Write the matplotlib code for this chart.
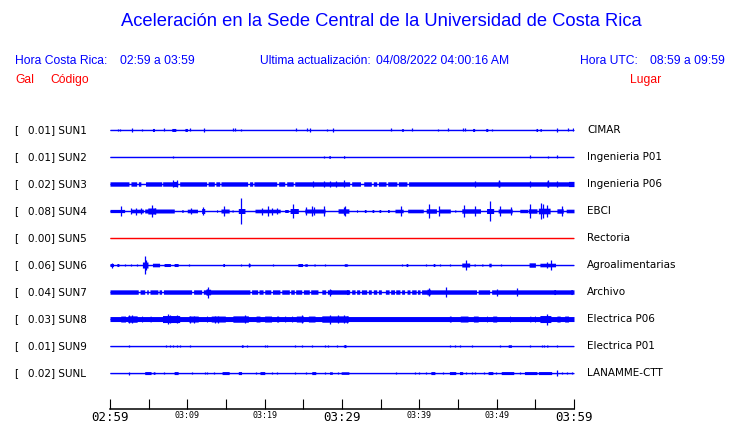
import numpy as np
import matplotlib
matplotlib.use("Agg")
import matplotlib.pyplot as plt
import matplotlib.transforms as mtransforms

# estaciones, pico en gal, lugar
codes = ["SUN1", "SUN2", "SUN3", "SUN4", "SUN5", "SUN6", "SUN7", "SUN8", "SUN9", "SUNL"]
peak_gal = [0.01, 0.01, 0.02, 0.08, 0.00, 0.06, 0.04, 0.03, 0.01, 0.02]
places = ["CIMAR", "Ingenieria P01", "Ingenieria P06", "EBCI", "Rectoria",
          "Agroalimentarias", "Archivo", "Electrica P06", "Electrica P01", "LANAMME-CTT"]

# ruido de fondo (semi-amplitud) por estacion, 0 = traza fina
band = [0, 0, 2.2, 0, 0, 0, 2.2, 2.5, 0, 0]

# minutos despues de 02:59 ; (inicio, fin, amplitud) y (t, amplitud)
sun1_boxes = [(5.5, 5.75, 1.5), (8.0, 8.5, 1.5), (9.7, 10.0, 1.5), (37.7, 37.95, 1.3),
              (46.9, 47.15, 1.5), (48.6, 48.85, 1.5), (55.1, 55.3, 1.5), (55.6, 55.8, 1.3)]
sun1_spikes = [(1.0, 1.2), (1.3, 1.2), (2.8, 1.6), (4.2, 1.3), (7.0, 1.5), (10.3, 1.5),
               (12.2, 2.2), (15.9, 1.5), (16.2, 1.5), (17.0, 1.3), (24.1, 1.5), (25.5, 1.5),
               (25.8, 1.8), (28.0, 1.2), (28.9, 1.6), (36.4, 1.5), (39.1, 1.5), (42.4, 1.3),
               (43.7, 1.5), (45.7, 1.5), (45.9, 1.5), (49.4, 1.3), (57.8, 2.2), (59.2, 1.5),
               (59.9, 1.5)]

sun2_boxes = [(28.3, 28.5, 1.3), (30.2, 30.35, 1.3)]
sun2_spikes = [(8.2, 1.2), (27.7, 1.3), (54.3, 1.5), (56.7, 1.2), (57.8, 1.5)]

sun3_gaps = [(2.46, 2.7), (3.45, 3.66), (4.0, 4.6), (6.7, 6.8), (8.75, 9.0), (12.5, 12.7),
             (13.5, 13.7), (14.2, 14.35), (17.8, 18.05), (18.45, 18.6), (21.55, 21.8),
             (22.6, 22.85), (23.7, 23.9), (31.0, 31.25), (32.4, 32.8), (33.8, 34.05),
             (34.5, 34.7), (35.7, 35.9), (37.1, 37.3), (38.4, 38.6)]
sun3_boxes = [(8.1, 8.7, 2.6), (50.2, 50.4, 3.0), (56.5, 56.7, 3.0), (59.3, 60.0, 2.6)]
sun3_spikes = [(8.15, 3.5), (8.6, 3.5), (26.3, 3.0), (27.7, 3.0), (28.5, 3.2), (29.2, 3.0),
               (30.3, 3.5), (47.2, 3.0), (50.3, 3.5), (54.3, 3.0), (56.6, 3.5), (57.8, 3.0)]

sun4_boxes = [(0.0, 1.9, 1.6), (2.7, 4.3, 1.8), (4.5, 8.3, 2.0), (4.9, 5.9, 3.0),
              (9.3, 9.45, 1.5), (10.0, 11.3, 1.8), (11.85, 12.25, 2.5), (13.8, 13.9, 1.3),
              (14.35, 15.4, 2.0), (15.8, 15.9, 1.3), (16.6, 17.45, 2.5), (18.75, 22.0, 1.8),
              (22.6, 23.05, 1.5), (23.3, 24.35, 2.5), (25.2, 27.8, 2.0), (29.5, 30.9, 2.2),
              (31.9, 32.0, 1.3), (32.9, 33.1, 1.5), (33.9, 34.1, 1.5), (34.8, 35.0, 1.5),
              (35.9, 36.1, 1.5), (36.85, 37.9, 1.8), (38.5, 40.5, 1.8), (40.9, 42.2, 2.2),
              (42.5, 44.0, 2.0), (44.6, 44.7, 1.3), (45.5, 47.9, 2.2), (48.7, 49.6, 2.5),
              (50.2, 52.0, 2.0), (53.0, 54.0, 1.7), (54.1, 55.2, 2.2), (55.4, 56.9, 2.8),
              (57.8, 58.6, 2.2), (59.0, 60.0, 1.8)]
sun4_spikes = [(1.4, 5), (2.7, 3), (3.4, 3.5), (3.96, 3), (5.4, 6), (5.8, 3), (10.5, 3),
               (12.0, 4), (14.7, 5), (16.94, 12.7), (19.6, 3.5), (20.4, 5), (20.9, 3.5),
               (21.55, 3), (23.7, 7), (25.4, 4), (26.1, 4.5), (26.4, 4), (27.7, 5), (30.3, 4),
               (30.4, 5), (37.6, 5), (41.3, 6.7), (42.6, 5), (45.8, 6), (47.2, 5), (49.1, 9.7),
               (50.4, 5), (51.8, 4), (54.3, 7), (55.7, 8), (56.0, 7), (56.5, 6), (58.4, 5)]

sun5_boxes = []
sun5_spikes = []

sun6_boxes = [(0.0, 0.45, 1.5), (0.9, 1.15, 1.5), (4.2, 4.9, 3.0), (5.5, 6.4, 1.8),
              (7.0, 7.8, 1.5), (8.3, 8.8, 1.5), (14.6, 14.8, 1.5), (17.9, 18.1, 1.5),
              (24.3, 24.9, 1.5), (25.2, 25.5, 1.3), (26.4, 26.5, 1.3), (30.3, 30.6, 1.3),
              (38.3, 38.5, 1.5), (41.8, 42.0, 1.5), (45.5, 46.5, 2.0), (47.1, 47.2, 1.3),
              (48.1, 48.2, 1.3), (49.0, 49.3, 1.8), (54.2, 55.0, 2.2), (55.6, 57.6, 1.8)]
sun6_spikes = [(0.2, 2.5), (1.94, 1.3), (2.7, 1.3), (3.45, 1.3), (4.5, 9.3), (4.7, 5),
               (10.26, 1.3), (16.94, 1.3), (18.0, 2.3), (21.1, 1.3), (27.8, 1.3), (30.7, 1.3),
               (37.7, 1.3), (40.9, 1.3), (42.7, 1.3), (44.0, 1.3), (46.0, 5), (50.5, 1.3),
               (57.0, 5), (56.5, 3)]

sun7_gaps = [(3.66, 3.88), (4.5, 4.74), (4.95, 5.17), (6.2, 6.35), (6.68, 6.9), (10.56, 10.8),
             (11.85, 12.07), (18.1, 18.3), (19.1, 19.26), (19.8, 20.0), (20.8, 21.0),
             (21.98, 22.2), (23.2, 23.36), (23.83, 24.0), (24.8, 25.0), (25.77, 25.95),
             (26.9, 27.4), (27.9, 28.1), (31.0, 31.25), (31.7, 31.9), (32.3, 32.5),
             (33.2, 33.4), (33.8, 34.05), (34.5, 34.7), (35.1, 35.6), (36.1, 36.3),
             (36.8, 36.95), (37.5, 37.7), (38.1, 38.4), (38.8, 39.0), (39.6, 39.75),
             (40.1, 40.3), (47.4, 47.6), (49.1, 49.35)]
sun7_boxes = [(12.4, 13.0, 2.8), (28.4, 28.6, 2.5), (30.6, 30.8, 2.5), (41.0, 41.4, 2.8),
              (57.4, 57.6, 2.5), (59.6, 59.8, 2.5)]
sun7_spikes = [(12.5, 2.8), (12.7, 5.5), (28.5, 3.5), (41.2, 4.2), (43.5, 5), (50.0, 3.5),
               (52.6, 4.2)]

sun8_boxes = [(1.4, 2.0, 3.0), (2.3, 3.5, 3.2), (4.1, 4.2, 3.0), (5.2, 5.3, 3.0), (6.8, 9.0, 3.5),
              (10.2, 11.4, 3.0), (12.5, 12.6, 3.0), (13.1, 14.9, 3.0), (15.9, 17.9, 3.2),
              (18.9, 19.4, 3.0), (20.0, 20.9, 3.0), (21.55, 21.8, 3.0), (22.6, 22.7, 3.0),
              (23.5, 23.6, 3.0), (24.1, 25.0, 3.0), (25.65, 26.5, 3.0), (27.4, 30.8, 3.2),
              (43.9, 44.1, 3.0), (45.3, 46.3, 3.0), (47.0, 47.6, 3.0), (48.7, 48.8, 3.0),
              (49.5, 50.0, 3.0), (51.7, 51.8, 3.0), (54.3, 54.4, 3.0), (54.9, 55.0, 3.0),
              (55.6, 57.0, 3.5), (57.8, 58.2, 3.0), (58.8, 59.3, 3.0)]
sun8_spikes = [(2.4, 4), (2.9, 4), (7.5, 5), (7.76, 4), (8.6, 4), (10.3, 3.5), (10.8, 3.5),
               (13.6, 3.5), (14.0, 3.5), (17.45, 4), (24.8, 4), (28.45, 4.5), (29.5, 4),
               (30.2, 4), (30.6, 3.5), (56.55, 5.5)]

sun9_boxes = [(17.0, 17.2, 1.3), (51.5, 51.9, 1.3), (56.5, 56.6, 1.3), (30.3, 30.5, 1.5)]
sun9_spikes = [(2.4, 1.3), (7.3, 1.3), (7.76, 1.3), (8.2, 1.3), (8.6, 1.3), (9.05, 1.3),
               (10.3, 1.2), (17.7, 1.2), (20.0, 1.3), (20.35, 1.2), (23.9, 1.2), (24.8, 1.2),
               (26.1, 1.2), (27.8, 1.2), (28.2, 1.3), (29.3, 1.3), (30.3, 1.3), (44.0, 1.2),
               (44.6, 1.2), (45.3, 1.3), (46.8, 1.2), (50.4, 1.2), (54.3, 1.3), (55.8, 1.3),
               (56.1, 1.2), (57.85, 1.3)]

sunl_boxes = [(4.5, 5.3, 1.5), (5.6, 5.8, 1.3), (8.3, 8.8, 1.5), (14.5, 15.4, 1.5),
              (16.6, 17.0, 1.5), (19.4, 20.0, 1.5), (26.1, 26.6, 1.5), (28.4, 28.75, 1.3),
              (29.9, 30.9, 1.3), (41.5, 42.0, 1.5), (43.9, 44.7, 1.5), (45.2, 45.6, 1.5),
              (48.9, 49.5, 1.5), (50.6, 52.2, 1.5), (53.6, 55.2, 1.5), (55.4, 57.1, 1.5)]
sunl_spikes = [(2.4, 1.5), (7.0, 1.3), (10.65, 1.3), (12.3, 1.3), (12.6, 1.3), (13.5, 1.3),
               (18.9, 1.3), (20.9, 1.3), (21.55, 1.3), (23.9, 1.3), (25.4, 1.3), (27.8, 1.3),
               (29.5, 1.3), (37.0, 1.3), (39.4, 1.3), (40.0, 1.3), (40.9, 1.3), (43.1, 1.3),
               (46.0, 1.3), (46.8, 1.3), (47.2, 1.3), (48.4, 1.3), (49.9, 1.3), (53.0, 1.3),
               (57.85, 3), (58.4, 1.3), (59.05, 1.3), (59.7, 1.3)]

gaps = [[], [], sun3_gaps, [], [], [], sun7_gaps, [], [], []]
boxes = [sun1_boxes, sun2_boxes, sun3_boxes, sun4_boxes, sun5_boxes,
         sun6_boxes, sun7_boxes, sun8_boxes, sun9_boxes, sunl_boxes]
spikes = [sun1_spikes, sun2_spikes, sun3_spikes, sun4_spikes, sun5_spikes,
          sun6_spikes, sun7_spikes, sun8_spikes, sun9_spikes, sunl_spikes]

tick_minutes = list(range(0, 61, 5))
tick_labels = ["02:59", "", "03:09", "", "03:19", "", "03:29", "", "03:39", "", "03:49", "", "03:59"]
big_ticks = ["02:59", "03:29", "03:59"]

BLUE = "#0000ff"
RED = "#ff0000"
k = 1 / 27.0   # semi-amplitud (px) -> separacion entre trazas
thin = 0.6

fig = plt.figure(figsize=(7.4, 4.23), dpi=100)
fig.patch.set_facecolor("white")
ax = fig.add_axes([110 / 740, 1 - 409 / 423, 464 / 740, 292 / 423])
ax.set_xlim(0, 60)
ax.set_ylim(10.33, -0.48)

t = np.arange(0, 60.0001, 0.02)
for i in range(len(codes)):
    col = RED if i == 4 else BLUE
    env = np.full_like(t, band[i] if band[i] > 0 else thin)
    for g0, g1 in gaps[i]:
        env[(t >= g0) & (t <= g1)] = thin
    for b0, b1, a in boxes[i]:
        m = (t >= b0) & (t <= b1)
        env[m] = np.maximum(env[m], a)
    ax.plot([0, 60], [i, i], color=col, lw=0.9, solid_capstyle="butt")
    ax.fill_between(t, i - env * k, i + env * k, step="mid", color=col, lw=0)
    if spikes[i]:
        st = [s[0] for s in spikes[i]]
        sa = np.array([s[1] for s in spikes[i]])
        ax.vlines(st, i - sa * k, i + sa * k, color=col, lw=0.9)

for s in ["left", "right", "top"]:
    ax.spines[s].set_visible(False)
ax.spines["bottom"].set_linewidth(1.1)
ax.set_yticks([])
ax.set_xticks(tick_minutes, tick_labels)
ax.tick_params(axis="x", direction="in", length=7.5, width=0.8, pad=1.5)
for lab in ax.get_xticklabels():
    lab.set_family("DejaVu Sans Mono")
    lab.set_fontsize(9 if lab.get_text() in big_ticks else 6)

# etiquetas de las trazas
tr = mtransforms.blended_transform_factory(fig.transFigure, ax.transData)
for i in range(len(codes)):
    ax.text(14 / 740, i, "[", transform=tr, ha="left", va="center", fontsize=7.5, family="DejaVu Sans")
    ax.text(27.5 / 740, i, f"{peak_gal[i]:.2f}] {codes[i]}", transform=tr, ha="left", va="center",
            fontsize=7.5, family="DejaVu Sans")
    ax.text(587 / 740, i, places[i], transform=tr, ha="left", va="center",
            fontsize=7.5, family="DejaVu Sans")

hf = "Liberation Sans"
fig.text(381.5 / 740, 1 - 22 / 423, "Aceleración en la Sede Central de la Universidad de Costa Rica",
         ha="center", va="center", color=BLUE, fontsize=13.2, family=hf)
yr = 1 - 61 / 423
fig.text(15 / 740, yr, "Hora Costa Rica:", ha="left", va="center", color=BLUE, fontsize=8.7, family=hf)
fig.text(120 / 740, yr, "02:59 a 03:59", ha="left", va="center", color=BLUE, fontsize=8.7, family=hf)
fig.text(260 / 740, yr, "Ultima actualización:", ha="left", va="center", color=BLUE, fontsize=8.7, family=hf)
fig.text(376 / 740, yr, "04/08/2022 04:00:16 AM", ha="left", va="center", color=BLUE, fontsize=8.7, family=hf)
fig.text(580 / 740, yr, "Hora UTC:", ha="left", va="center", color=BLUE, fontsize=8.7, family=hf)
fig.text(725 / 740, yr, "08:59 a 09:59", ha="right", va="center", color=BLUE, fontsize=8.7, family=hf)
yg = 1 - 80 / 423
fig.text(15 / 740, yg, "Gal", ha="left", va="center", color=RED, fontsize=8.7, family=hf)
fig.text(50 / 740, yg, "Código", ha="left", va="center", color=RED, fontsize=8.7, family=hf)
fig.text(630 / 740, yg, "Lugar", ha="left", va="center", color=RED, fontsize=8.7, family=hf)

fig.savefig("out.png", dpi=100)
